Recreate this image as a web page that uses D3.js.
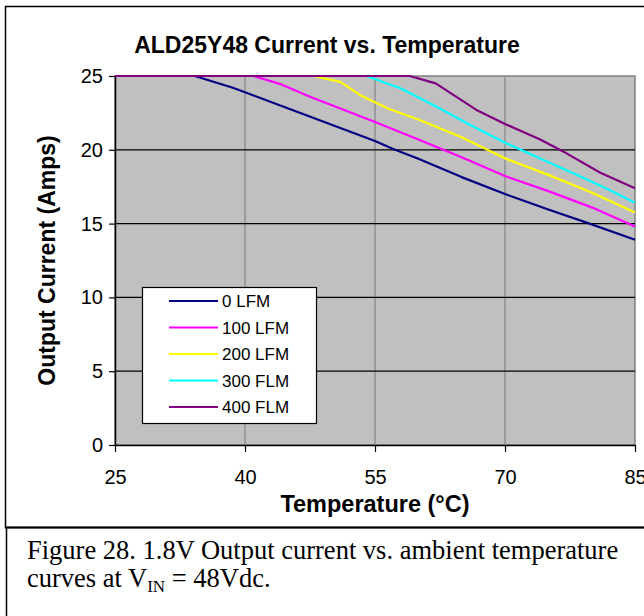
<!DOCTYPE html>
<html><head><meta charset="utf-8">
<script src="https://cdn.jsdelivr.net/npm/d3@7"></script>
<style>body{margin:0;background:#fff}svg{display:block}</style>
</head><body>
<script>
const title = "ALD25Y48 Current vs. Temperature";
const xTicks = [25, 40, 55, 70, 85];
const yTicks = [0, 5, 10, 15, 20, 25];
const seriesNames = ["0 LFM", "100 LFM", "200 LFM", "300 FLM", "400 FLM"];
const seriesColors = ["#000080", "#FF00FF", "#FFFF00", "#00FFFF", "#800080"];
const temp0 = [25, 34.2, 38.6, 45, 50, 55, 57.1, 60, 65, 70, 75, 80, 85];
const amps0 = [25, 25, 24.2, 22.8, 21.7, 20.6, 20.05, 19.4, 18.15, 17.0, 15.95, 14.95, 13.9];
const temp100 = [25, 41, 44.2, 47.5, 51, 55, 60, 65, 70, 75, 80, 85];
const amps100 = [25, 25, 24.43, 23.6, 22.8, 21.88, 20.7, 19.5, 18.22, 17.2, 16.1, 14.8];
const temp200 = [25, 47.9, 51, 53.3, 56.5, 60, 65, 70, 75, 80, 85];
const amps200 = [25, 25, 24.6, 23.7, 22.8, 22.05, 20.85, 19.42, 18.3, 17.1, 15.75];
const temp300 = [25, 54, 58, 62, 66, 70, 74, 78, 82, 85];
const amps300 = [25, 25, 24.15, 22.95, 21.68, 20.48, 19.42, 18.37, 17.3, 16.42];
const temp400 = [25, 59, 62, 66.7, 70, 74, 77.1, 81, 85];
const amps400 = [25, 25, 24.5, 22.7, 21.75, 20.71, 19.76, 18.45, 17.4];
const xLabel = "Temperature (°C)";
const yLabel = "Output Current (Amps)";

const temps = [temp0, temp100, temp200, temp300, temp400];
const amps = [amps0, amps100, amps200, amps300, amps400];

const W = 644, H = 616;
const svg = d3.select("body").append("svg").attr("width", W).attr("height", H);
svg.append("rect").attr("width", W).attr("height", H).attr("fill", "#fff");

// outer chart border
svg.append("rect").attr("x", 5.5).attr("y", 6.5).attr("width", 660).attr("height", 521)
  .attr("fill", "none").attr("stroke", "#000").attr("stroke-width", 1.5);
svg.append("line").attr("x1", 6.5).attr("x2", 6.5).attr("y1", 528).attr("y2", H)
  .attr("stroke", "#000").attr("stroke-width", 1.5);
svg.append("line").attr("x1", 5).attr("x2", W).attr("y1", 527.5).attr("y2", 527.5)
  .attr("stroke", "#000").attr("stroke-width", 2);

const x = d3.scaleLinear().domain([25, 85]).range([115, 635]);
const y = d3.scaleLinear().domain([0, 25]).range([445, 76]);

// plot background
svg.append("rect").attr("x", x(25)).attr("y", y(25)).attr("width", x(85) - x(25))
  .attr("height", y(0) - y(25)).attr("fill", "#C0C0C0")
  .attr("stroke", "#808080").attr("stroke-width", 1.5);

// vertical gridlines
svg.append("g").selectAll("line").data(xTicks.slice(1, -1)).join("line")
  .attr("x1", d => x(d)).attr("x2", d => x(d)).attr("y1", y(0)).attr("y2", y(25))
  .attr("stroke", "#909090").attr("stroke-width", 1.5);
// horizontal gridlines
svg.append("g").selectAll("line").data(yTicks.slice(1, -1)).join("line")
  .attr("x1", x(25)).attr("x2", x(85)).attr("y1", d => y(d)).attr("y2", d => y(d))
  .attr("stroke", "#000").attr("stroke-width", 1.2);

// axes
const xAxis = svg.append("g").attr("transform", `translate(0,${y(0)})`)
  .call(d3.axisBottom(x).tickValues(xTicks).tickSize(7).tickPadding(18).tickSizeOuter(0));
const yAxis = svg.append("g").attr("transform", `translate(${x(25)},0)`)
  .call(d3.axisLeft(y).tickValues(yTicks).tickSize(6).tickPadding(6).tickSizeOuter(0));
[xAxis, yAxis].forEach(a => {
  a.select(".domain").attr("stroke", "#000").attr("stroke-width", 1.5);
  a.selectAll(".tick line").attr("stroke", "#000").attr("stroke-width", 1.2);
  a.selectAll("text").attr("font-family", "Liberation Sans, Arial, sans-serif")
    .attr("font-size", 20).attr("fill", "#000");
});

// lines
const line = d3.line().x(d => x(d[0])).y(d => y(d[1]));
temps.forEach((t, i) => {
  const pts = t.map((v, j) => [v, amps[i][j]]);
  svg.append("path").datum(pts).attr("d", line).attr("fill", "none")
    .attr("stroke", seriesColors[i]).attr("stroke-width", 2.2).attr("stroke-linejoin", "round");
});

// legend
const lg = svg.append("g");
lg.append("rect").attr("x", 142.5).attr("y", 287.5).attr("width", 174).attr("height", 136)
  .attr("fill", "#fff").attr("stroke", "#000").attr("stroke-width", 1.2);
seriesNames.forEach((n, i) => {
  const yy = 301 + i * 26.5;
  lg.append("line").attr("x1", 169).attr("x2", 218).attr("y1", yy).attr("y2", yy)
    .attr("stroke", seriesColors[i]).attr("stroke-width", 2.2);
  lg.append("text").attr("x", 222).attr("y", yy + 6).text(n)
    .attr("font-family", "Liberation Sans, Arial, sans-serif").attr("font-size", 17);
});

// titles
svg.append("text").attr("x", 327).attr("y", 52.5).attr("text-anchor", "middle")
  .attr("font-family", "Liberation Sans, Arial, sans-serif").attr("font-weight", "bold")
  .attr("font-size", 23).text(title);
svg.append("text").attr("x", (x(25) + x(85)) / 2).attr("y", 512).attr("text-anchor", "middle")
  .attr("font-family", "Liberation Sans, Arial, sans-serif").attr("font-weight", "bold")
  .attr("font-size", 23.5).text(xLabel);
svg.append("text").attr("transform", `translate(55,${(y(0) + y(25)) / 2}) rotate(-90)`)
  .attr("text-anchor", "middle")
  .attr("font-family", "Liberation Sans, Arial, sans-serif").attr("font-weight", "bold")
  .attr("font-size", 23).text(yLabel);

// caption
const cap = svg.append("g").attr("font-family", "Liberation Serif, Times New Roman, serif")
  .attr("font-size", 26.5).attr("fill", "#000");
cap.append("text").attr("x", 27).attr("y", 558.5).text("Figure 28. 1.8V Output current vs. ambient temperature");
const t2 = cap.append("text").attr("x", 27).attr("y", 587);
t2.append("tspan").text("curves at V");
t2.append("tspan").attr("font-size", 17).attr("dy", 5).text("IN");
t2.append("tspan").attr("dy", -5).text(" = 48Vdc.");
</script>
</body></html>
